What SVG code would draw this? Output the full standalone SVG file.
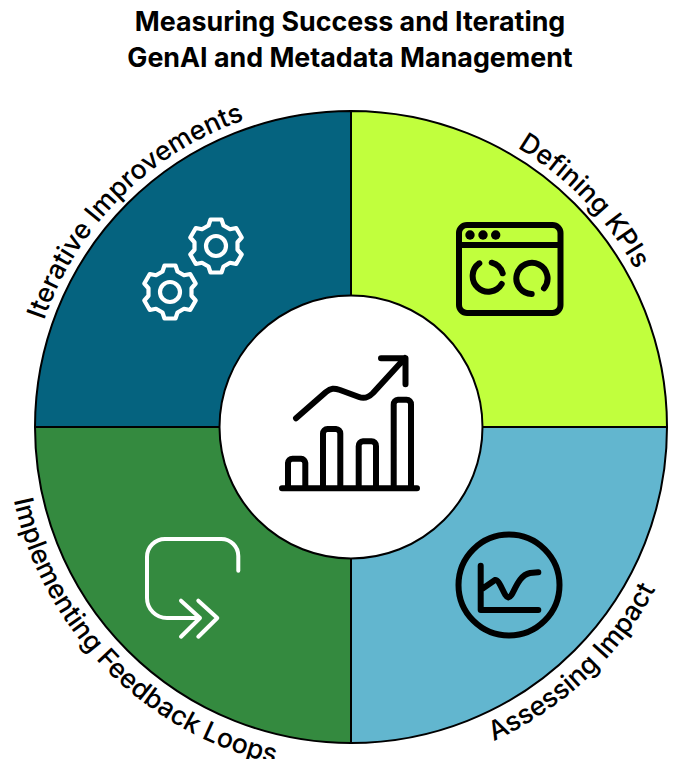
<svg xmlns="http://www.w3.org/2000/svg" xmlns:xlink="http://www.w3.org/1999/xlink" width="673" height="759" viewBox="0 0 673 759">
<style>
.t{font-family:Inter,"Liberation Sans",sans-serif;font-weight:700;font-size:26.800px;fill:#000;text-anchor:middle}
.l{font-family:Inter,"Liberation Sans",sans-serif;font-weight:500;font-size:26.700px;fill:#000;text-anchor:middle}
.q{stroke:#000;stroke-width:2}
.k{fill:none;stroke:#000;stroke-width:6;stroke-linecap:round;stroke-linejoin:round}
.w{fill:none;stroke:#fff;stroke-width:4;stroke-linecap:round;stroke-linejoin:round}
.g{fill:none;stroke:#fff;stroke-width:4.200;stroke-linecap:round;stroke-linejoin:round}
</style>
<defs>
<path id="a1" d="M26 427A325 325 0 0 1 351 102"/>
<path id="a2" d="M351 102A325 325 0 0 1 676 427"/>
<path id="a3" d="M6 427A345 345 0 0 0 351 772"/>
<path id="a4" d="M351 772A345 345 0 0 0 696 427"/>
<g id="gear">
<path class="g" d="M-7.500-20.500L-5.500-26.500H5.500L7.500-20.500L14-16.750L20.200-18L25.700-8.500L21.500-3.750V3.750L25.700 8.500L20.200 18L14 16.750L7.500 20.500L5.500 26.500H-5.500L-7.500 20.500L-14 16.750L-20.200 18L-25.700 8.500L-21.500 3.750V-3.750L-25.700-8.500L-20.200-18L-14-16.750Z"/>
<circle class="g" r="10"/>
</g>
</defs>
<g id="title">
<text class="t" x="350" y="31">Measuring Success and Iterating</text>
<text class="t" x="350" y="67">GenAI and Metadata Management</text>
</g>
<g id="node-iterative">
<path class="q" fill="#05637f" d="M351 427V111A316 316 0 0 0 35 427Z"/>
<use xlink:href="#gear" href="#gear" x="216" y="246"/>
<use xlink:href="#gear" href="#gear" x="170" y="292"/>
<text class="l"><textPath xlink:href="#a1" href="#a1" startOffset="50%">Iterative Improvements</textPath></text>
</g>
<g id="node-kpis">
<path class="q" fill="#c1ff3d" d="M351 427V111A316 316 0 0 1 667 427Z"/>
<rect class="k" x="459" y="225" width="101.500" height="88" rx="8"/>
<path class="k" d="M459 245H560"/>
<circle cx="470" cy="235" r="4.700"/><circle cx="483" cy="235" r="4.700"/><circle cx="495.700" cy="235" r="4.700"/>
<path class="k" d="M479.300 263.300A15.600 15.600 0 1 0 501.700 284M491.700 262.700A15.600 15.600 0 0 1 502.700 273.300M544 288.300A15.600 15.600 0 1 0 531.700 294"/>
<text class="l"><textPath xlink:href="#a2" href="#a2" startOffset="51%">Defining KPIs</textPath></text>
</g>
<g id="node-feedback">
<path class="q" fill="#348a3f" d="M351 427V743A316 316 0 0 1 35 427Z"/>
<path class="w" d="M238.300 570.700V556A17 17 0 0 0 221.300 539H165A18 18 0 0 0 147 557V598A20 20 0 0 0 167 618H200M181 600.700L200 618L181 636.700M198.300 600.700L217.300 618L198.300 636.700"/>
<text class="l"><textPath xlink:href="#a3" href="#a3" startOffset="49.700%">Implementing Feedback Loops</textPath></text>
</g>
<g id="node-impact">
<path class="q" fill="#62b6cf" d="M351 427V743A316 316 0 0 0 667 427Z"/>
<circle class="k" cx="509" cy="585" r="50.500"/>
<path class="k" d="M480.700 565.700V610H538.300M482 589L495 580C500 579 504 597 508.300 597.500C514 597 516 576 530 573L538.300 572.300"/>
<text class="l"><textPath xlink:href="#a4" href="#a4" startOffset="48%">Assessing Impact</textPath></text>
</g>
<g id="node-center">
<circle cx="351" cy="427" r="131.500" fill="#fff" stroke="#000" stroke-width="2"/>
<path class="k" d="M282 488.300H417M288 488V463A4.500 4.500 0 0 1 292.500 458.700H301A4.500 4.500 0 0 1 305.300 463V488M323 488V433.500A4.500 4.500 0 0 1 327.500 429H336A4.500 4.500 0 0 1 340.300 433.500V488M358.700 488V446A4.500 4.500 0 0 1 363 441.300H371.500A4.500 4.500 0 0 1 376 446V488M393.700 488V404.500A4.500 4.500 0 0 1 398 399.700H406.500A4.500 4.500 0 0 1 411 404.500V488"/>
<path class="k" d="M296 418.300L326 392C331 388 334 388 340 390L359 397C364 399 369 397 373 393L405 358M381 358.300H405.500V384.300"/>
</g>
</svg>
